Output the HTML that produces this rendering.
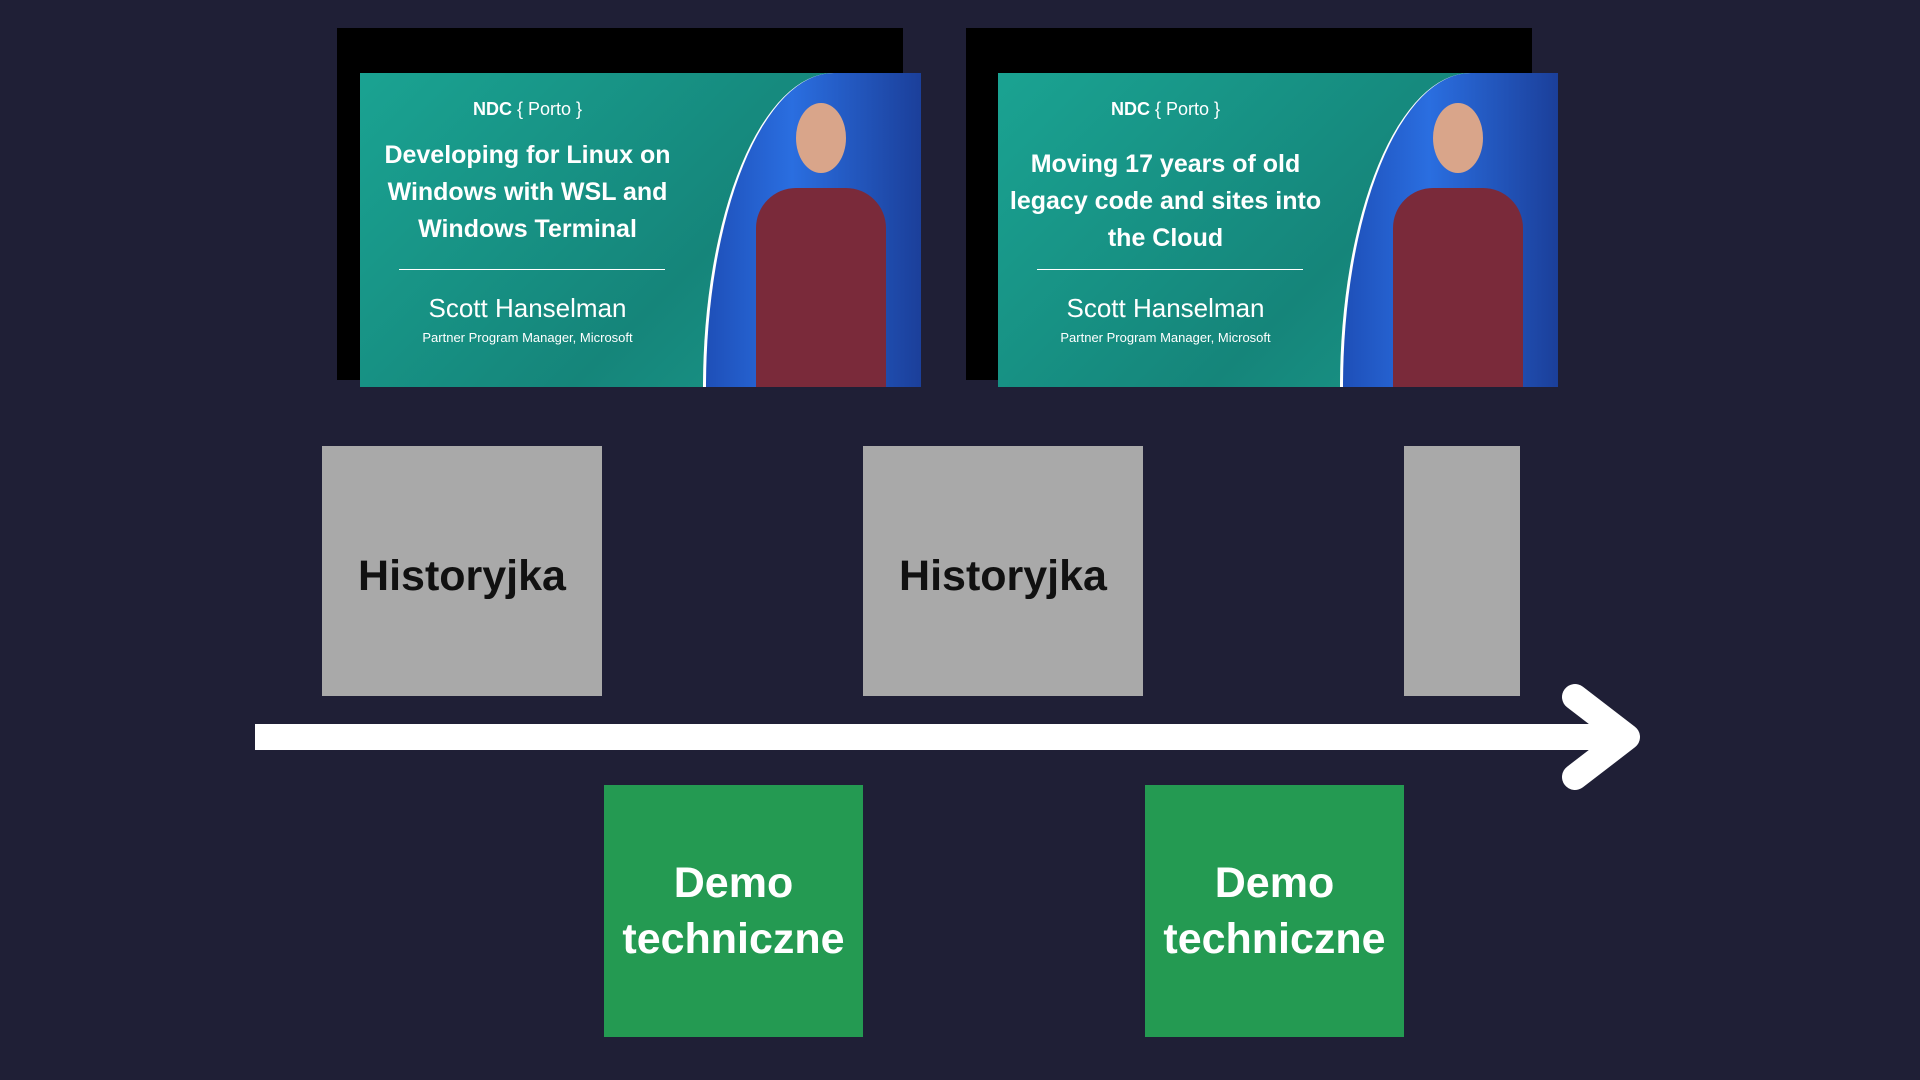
<!DOCTYPE html>
<html><head><meta charset="utf-8"><style>
body{margin:0;width:1920px;height:1080px;background:#1f1f36;position:relative;overflow:hidden;font-family:"Liberation Sans",sans-serif}
.a{position:absolute}
.blk{background:#000}
.thumb{overflow:hidden;background:linear-gradient(135deg,#1aa392,#15857a 60%,#1c9c8c)}
.photo{position:absolute;right:0;top:0;width:215px;height:100%;background:linear-gradient(90deg,#1e4fb8,#2a6ee0 40%,#1b3f9a);border-left:3px solid #fff;border-radius:60% 0 0 0/100% 0 0 0}
.shirt{position:absolute;left:50px;top:115px;width:130px;height:200px;background:#7a2a3a;border-radius:40px 40px 0 0}
.head{position:absolute;left:90px;top:30px;width:50px;height:70px;background:#d9a58a;border-radius:50%}
.t{position:absolute;left:0;width:335px;text-align:center;color:#fff}
.gray{background:#a9a9a9;display:flex;align-items:center;justify-content:center;font-weight:bold;font-size:43px;color:#111;padding-top:10px;box-sizing:border-box}
.green{background:#249a52;display:flex;align-items:center;justify-content:center;text-align:center;font-weight:bold;font-size:43px;color:#fff;line-height:56px}
</style></head><body>
<div class="a blk" style="left:337px;top:28px;width:566px;height:352px"></div>
<div class="a blk" style="left:966px;top:28px;width:566px;height:352px"></div>

<div class="a thumb" style="left:360px;top:73px;width:561px;height:314px">
<div class="photo"><div class="head"></div><div class="shirt"></div></div>
<div class="t" style="top:26px;font-size:18px"><b>NDC</b> { Porto }</div>
<div class="t" style="top:64px;font-size:25px;font-weight:bold;line-height:37px">Developing for Linux on Windows with WSL and Windows Terminal</div>
<div class="a" style="left:39px;top:196px;width:266px;height:1px;background:#fff"></div>
<div class="t" style="top:220px;font-size:26px">Scott Hanselman</div>
<div class="t" style="top:257px;font-size:13px">Partner Program Manager, Microsoft</div>
</div>

<div class="a thumb" style="left:998px;top:73px;width:560px;height:314px">
<div class="photo"><div class="head"></div><div class="shirt"></div></div>
<div class="t" style="top:26px;font-size:18px"><b>NDC</b> { Porto }</div>
<div class="t" style="top:73px;font-size:25px;font-weight:bold;line-height:37px">Moving 17 years of old legacy code and sites into the Cloud</div>
<div class="a" style="left:39px;top:196px;width:266px;height:1px;background:#fff"></div>
<div class="t" style="top:220px;font-size:26px">Scott Hanselman</div>
<div class="t" style="top:257px;font-size:13px">Partner Program Manager, Microsoft</div>
</div>

<div class="a gray" style="left:322px;top:446px;width:280px;height:250px">Historyjka</div>
<div class="a gray" style="left:863px;top:446px;width:280px;height:250px">Historyjka</div>
<div class="a gray" style="left:1404px;top:446px;width:116px;height:250px"></div>

<svg class="a" style="left:0;top:0" width="1920" height="1080">
<rect x="255" y="724" width="1370" height="26" fill="#fff"/>
<polyline points="1575,697 1627,737 1575,777" fill="none" stroke="#fff" stroke-width="26" stroke-linecap="round" stroke-linejoin="round"/>
</svg>

<div class="a green" style="left:604px;top:785px;width:259px;height:252px">Demo<br>techniczne</div>
<div class="a green" style="left:1145px;top:785px;width:259px;height:252px">Demo<br>techniczne</div>
</body></html>
